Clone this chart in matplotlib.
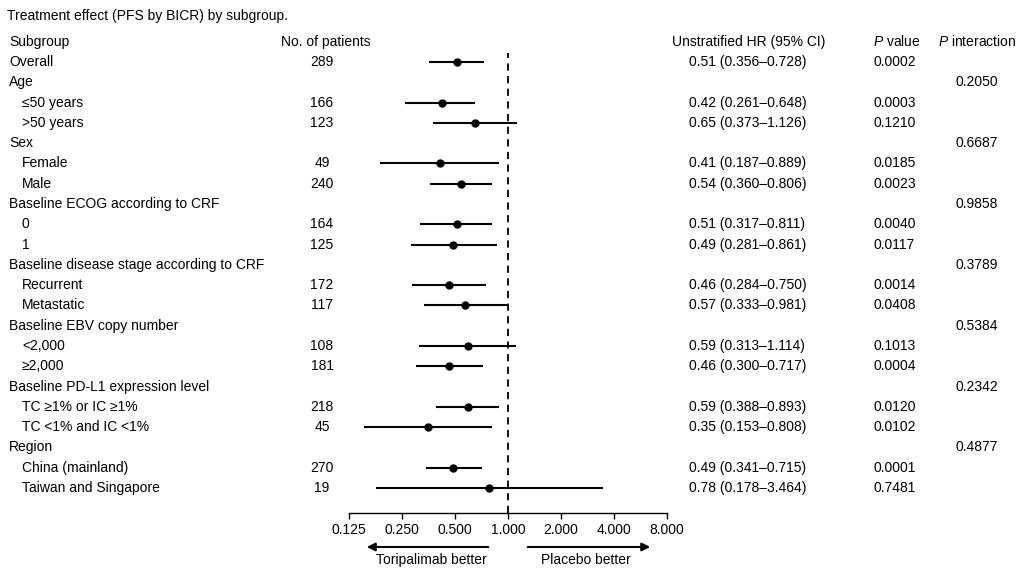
import matplotlib
matplotlib.use("Agg")
import matplotlib.pyplot as plt
from matplotlib.transforms import blended_transform_factory

plt.rcParams['font.family'] = ['Liberation Sans', 'DejaVu Sans']
plt.rcParams['mathtext.fontset'] = 'custom'
plt.rcParams['mathtext.it'] = 'Liberation Sans:italic'
plt.rcParams['mathtext.rm'] = 'Liberation Sans'

labels = ["Overall", "Age", "≤50 years", ">50 years", "Sex", "Female", "Male",
          "Baseline ECOG according to CRF", "0", "1",
          "Baseline disease stage according to CRF", "Recurrent", "Metastatic",
          "Baseline EBV copy number", "<2,000", "≥2,000",
          "Baseline PD-L1 expression level", "TC ≥1% or IC ≥1%", "TC <1% and IC <1%",
          "Region", "China (mainland)", "Taiwan and Singapore"]
indent = [0, 0, 1, 1, 0, 1, 1, 0, 1, 1, 0, 1, 1, 0, 1, 1, 0, 1, 1, 0, 1, 1]
n_patients = [289, None, 166, 123, None, 49, 240, None, 164, 125, None, 172, 117,
              None, 108, 181, None, 218, 45, None, 270, 19]
hr = [0.51, None, 0.42, 0.65, None, 0.41, 0.54, None, 0.51, 0.49, None, 0.46, 0.57,
      None, 0.59, 0.46, None, 0.59, 0.35, None, 0.49, 0.78]
ci_lo = [0.356, None, 0.261, 0.373, None, 0.187, 0.360, None, 0.317, 0.281, None,
         0.284, 0.333, None, 0.313, 0.300, None, 0.388, 0.153, None, 0.341, 0.178]
ci_hi = [0.728, None, 0.648, 1.126, None, 0.889, 0.806, None, 0.811, 0.861, None,
         0.750, 0.981, None, 1.114, 0.717, None, 0.893, 0.808, None, 0.715, 3.464]
p_value = ["0.0002", "", "0.0003", "0.1210", "", "0.0185", "0.0023", "", "0.0040",
           "0.0117", "", "0.0014", "0.0408", "", "0.1013", "0.0004", "", "0.0120",
           "0.0102", "", "0.0001", "0.7481"]
p_inter = ["", "0.2050", "", "", "0.6687", "", "", "0.9858", "", "", "0.3789", "", "",
           "0.5384", "", "", "0.2342", "", "", "0.4877", "", ""]
xticks = [0.125, 0.25, 0.5, 1, 2, 4, 8]

W, H = 1028, 576
fig = plt.figure(figsize=(W / 100, H / 100), dpi=100)

# forest axes placed in pixel terms
ax_left, ax_right, ax_top, ax_bot = 349, 667, 42, 513
ax = fig.add_axes([ax_left / W, 1 - ax_bot / H, (ax_right - ax_left) / W, (ax_bot - ax_top) / H])
row0, step = 62, 20.286
ax.set_ylim((ax_bot - row0) / step, (ax_top - row0) / step)
ax.set_xscale('log', base=2)
ax.set_xlim(0.125, 8)
ax.set_xticks(xticks)
ax.set_xticklabels(["%.3f" % t for t in xticks])
ax.minorticks_off()
ax.tick_params(axis='x', direction='out', length=4, width=1, labelsize=10, pad=3)
ax.set_yticks([])
for s in ['top', 'left', 'right']:
    ax.spines[s].set_visible(False)
ax.spines['bottom'].set_linewidth(1)
ax.patch.set_visible(False)

fs = 10
tr = blended_transform_factory(fig.transFigure, ax.transData)

def fx(px):
    return px / W

for i, lab in enumerate(labels):
    ax.text(fx(22 if indent[i] else 9), i, lab, transform=tr, fontsize=fs, va='center', ha='left')
    if n_patients[i] is not None:
        ax.text(fx(322), i, str(n_patients[i]), transform=tr, fontsize=fs, va='center', ha='center')
    if hr[i] is not None:
        ax.plot([ci_lo[i], ci_hi[i]], [i, i], color='black', lw=1.5, solid_capstyle='butt')
        ax.plot(hr[i], i, 'o', color='black', ms=5)
        ax.text(fx(689), i, "%.2f (%.3f–%.3f)" % (hr[i], ci_lo[i], ci_hi[i]),
                transform=tr, fontsize=fs, va='center', ha='left')
    if p_value[i]:
        ax.text(fx(874), i, p_value[i], transform=tr, fontsize=fs, va='center', ha='left')
    if p_inter[i]:
        ax.text(fx(956), i, p_inter[i], transform=tr, fontsize=fs, va='center', ha='left')

# headers
ax.text(fx(9), -1, "Subgroup", transform=tr, fontsize=fs, va='center', ha='left')
ax.text(fx(281), -1, "No. of patients", transform=tr, fontsize=fs, va='center', ha='left')
ax.text(fx(672), -1, "Unstratified HR (95% CI)", transform=tr, fontsize=fs, va='center', ha='left')
ax.text(fx(873), -1, "$P$ value", transform=tr, fontsize=fs, va='center', ha='left')
ax.text(fx(938), -1, "$P$ interaction", transform=tr, fontsize=fs, va='center', ha='left')

fig.text(fx(7), 1 - 16 / H, "Treatment effect (PFS by BICR) by subgroup.", fontsize=fs, va='center', ha='left')

# reference line
ax.axvline(1, ymin=0, ymax=(ax_bot - 53) / (ax_bot - ax_top), color='black', lw=1.3,
           ls=(0, (4, 3)))

# direction arrows
ay = 1 - 547 / H
ax.annotate("", xy=(fx(364), ay), xytext=(fx(491), ay), xycoords='figure fraction',
            arrowprops=dict(arrowstyle='-|>', color='black', lw=1.5, mutation_scale=12))
ax.annotate("", xy=(fx(653), ay), xytext=(fx(525), ay), xycoords='figure fraction',
            arrowprops=dict(arrowstyle='-|>', color='black', lw=1.5, mutation_scale=12))
fig.text(fx(431), 1 - 560 / H, "Toripalimab better", fontsize=fs, va='center', ha='center')
fig.text(fx(586), 1 - 560 / H, "Placebo better", fontsize=fs, va='center', ha='center')

fig.savefig("out.png", dpi=100)
